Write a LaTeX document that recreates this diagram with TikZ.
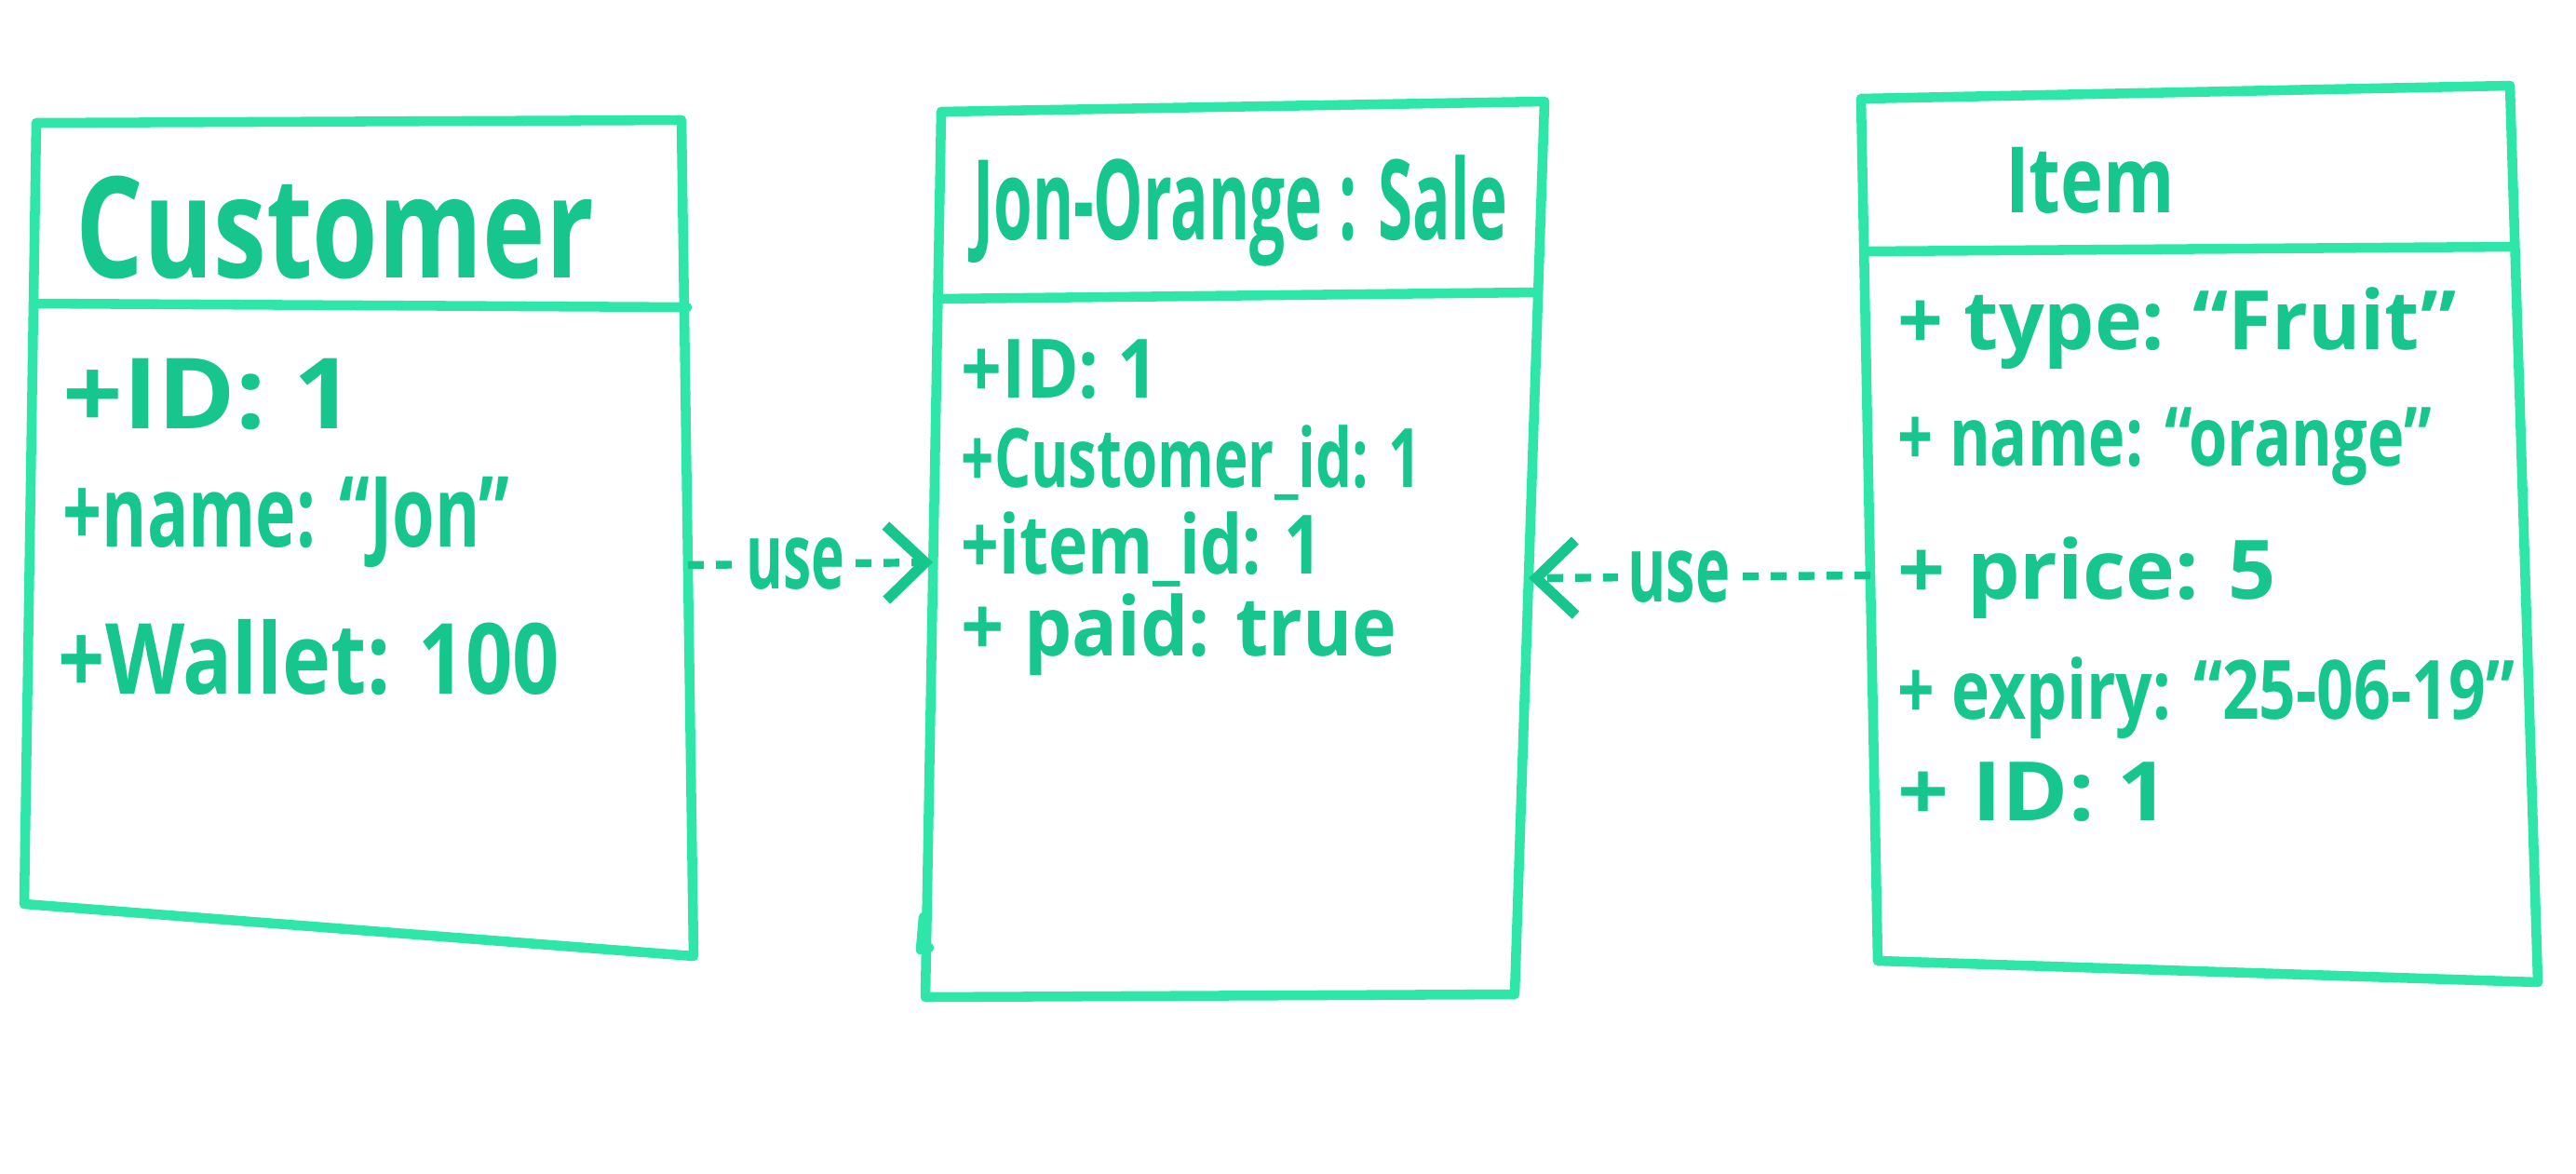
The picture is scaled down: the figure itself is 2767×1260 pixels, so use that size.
\documentclass[tikz,border=0pt]{standalone}
\usepackage{fontspec}
\setmainfont{Open Sans}
\usepackage{graphicx}
\usetikzlibrary{arrows.meta}
\definecolor{boxgreen}{HTML}{2EE6A8}
\definecolor{inkgreen}{HTML}{16C68C}
\newcommand{\fw}[2]{\resizebox{#1}{\height}{#2}}
\begin{document}
\begin{tikzpicture}[x=0.01cm,y=-0.01cm,
  box/.style={draw=boxgreen,line width=3pt,line join=round,line cap=round},
  attr/.style={anchor=west,text=inkgreen,inner sep=0pt},
  ttl/.style={text=inkgreen,inner sep=0pt},
  usearrow/.style={draw=inkgreen,line width=2.4pt,dash pattern=on 0.17cm off 0.13cm,
    -{Straight Barb[length=0.42cm,width=0.8cm,line width=3.2pt]}},
  uselabel/.style={fill=white,text=inkgreen,inner sep=3pt,font=\bfseries\fontsize{28}{30}\selectfont}]
\useasboundingbox (0,0) rectangle (2767,1260);
\fill[white] (0,0) rectangle (2767,1260);

% ---------- Customer ----------
\coordinate (cTL) at (39,132);
\coordinate (cTR) at (732,129);
\coordinate (cBR) at (745,1027);
\coordinate (cBL) at (26,971);
\draw[box] (cTL) -- (cTR) -- (cBR) -- (cBL) -- cycle;
\draw[box] (37,326) -- (738,330);
\node[ttl,font=\bfseries\fontsize{43}{45}\selectfont] (cTitle) at (360,244) {\fw{556\dimexpr0.01cm\relax}{Customer}};
\node[attr,font=\bfseries\fontsize{30}{32}\selectfont] (cA1) at (67,424) {\fw{312\dimexpr0.01cm\relax}{+ID: 1}};
\node[attr,font=\bfseries\fontsize{30}{32}\selectfont] (cA2) at (67,561) {\fw{480\dimexpr0.01cm\relax}{+name: “Jon”}};
\node[attr,font=\bfseries\fontsize{30}{32}\selectfont] (cA3) at (62,706) {\fw{538\dimexpr0.01cm\relax}{+Wallet: 100}};

% ---------- Sale ----------
\coordinate (sTL) at (1011,120);
\coordinate (sTR) at (1659,109);
\coordinate (sBR) at (1627,1068);
\coordinate (sBL) at (994,1071);
\draw[box] (sTL) -- (sTR) -- (sBR) -- (sBL) -- cycle;
\draw[box] (1009,321) -- (1652,314);
\draw[box] (992,985) -- (989,1020) -- (998,1018);
\node[ttl,font=\bfseries\fontsize{34}{36}\selectfont] (sTitle) at (1332,226) {\fw{574\dimexpr0.01cm\relax}{Jon-Orange : Sale}};
\node[attr,font=\bfseries\fontsize{25}{27}\selectfont] (sA1) at (1032,397) {\fw{212\dimexpr0.01cm\relax}{+ID: 1}};
\node[attr,font=\bfseries\fontsize{25}{27}\selectfont] (sA2) at (1032,497) {\fw{494\dimexpr0.01cm\relax}{+Customer\_id: 1}};
\node[attr,font=\bfseries\fontsize{25}{27}\selectfont] (sA3) at (1032,590) {\fw{388\dimexpr0.01cm\relax}{+item\_id: 1}};
\node[attr,font=\bfseries\fontsize{25}{27}\selectfont] (sA4) at (1032,682) {\fw{468\dimexpr0.01cm\relax}{+ paid: true}};

% ---------- Item ----------
\coordinate (iTL) at (1999,106);
\coordinate (iTR) at (2696,92);
\coordinate (iBR) at (2726,1055);
\coordinate (iBL) at (2017,1032);
\draw[box] (iTL) -- (iTR) -- (iBR) -- (iBL) -- cycle;
\draw[box] (2004,270) -- (2700,265);
\node[ttl,font=\bfseries\fontsize{28}{30}\selectfont] (iTitle) at (2245,194) {\fw{182\dimexpr0.01cm\relax}{Item}};
\node[attr,font=\bfseries\fontsize{25}{27}\selectfont] (iA1) at (2038,353) {\fw{600\dimexpr0.01cm\relax}{+ type: “Fruit”}};
\node[attr,font=\bfseries\fontsize{25}{27}\selectfont] (iA2) at (2038,480) {\fw{573\dimexpr0.01cm\relax}{+ name: “orange”}};
\node[attr,font=\bfseries\fontsize{25}{27}\selectfont] (iA3) at (2038,621) {\fw{406\dimexpr0.01cm\relax}{+ price: 5}};
\node[attr,font=\bfseries\fontsize{25}{27}\selectfont] (iA4) at (2038,750) {\fw{662\dimexpr0.01cm\relax}{+ expiry: “25-06-19”}};
\node[attr,font=\bfseries\fontsize{25}{27}\selectfont] (iA5) at (2038,851) {\fw{291\dimexpr0.01cm\relax}{+ ID: 1}};

% ---------- connectors ----------
\coordinate (cR) at (739,607);
\coordinate (sL) at (1002,604);
\coordinate (sR) at (1642,621);
\coordinate (iL) at (2009,618);
\draw[usearrow] (cR) -- node[uselabel,pos=0.44] (u1) {\fw{106\dimexpr0.01cm\relax}{use}} (sL);
\draw[usearrow] (iL) -- node[uselabel,pos=0.56] (u2) {\fw{110\dimexpr0.01cm\relax}{use}} (sR);
\end{tikzpicture}
\end{document}
